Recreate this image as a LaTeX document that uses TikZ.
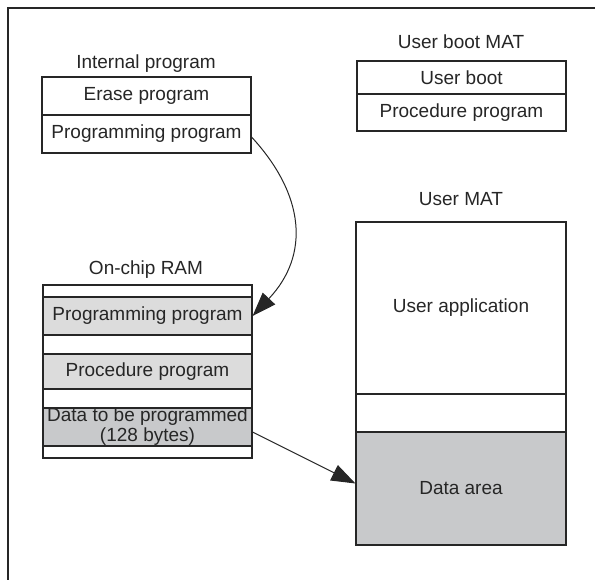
\documentclass[tikz,border=0pt]{standalone}
\usepackage{fontspec}
\setmainfont{Liberation Sans}
\usetikzlibrary{arrows.meta}

\definecolor{linegray}{HTML}{262626}
\definecolor{lightfill}{HTML}{DCDCDC}
\definecolor{darkfill}{HTML}{C8C9CB}

\tikzset{
  memrow/.style={draw=linegray, line width=1.1pt, minimum width=209pt, inner sep=0pt,
    text=linegray, font=\fontsize{19}{20}\selectfont, align=center},
  title/.style={text=linegray, font=\fontsize{19}{20}\selectfont, inner sep=0pt},
  arr/.style={draw=linegray, line width=1pt, -{Triangle[length=24pt,width=17pt]}}
}

\begin{document}
\begin{tikzpicture}[x=1pt,y=-1pt]
    \useasboundingbox (0,0) rectangle (595,580);
    \draw[linegray, line width=1.1pt] (8,580) -- (8,8) -- (595,8);
    % internal program
    \node[title] (intlbl) at (146,64) {Internal program};
    \node[memrow, minimum height=38pt] (erase) at (146.5,96) {Erase program};
    \node[memrow, minimum height=38pt] (intprog) at (146.5,134) {Programming program};
    % user boot MAT
    \node[title] (ubootlbl) at (461,42) {User boot MAT};
    \node[memrow, minimum height=33pt] (uboot) at (461.5,77.5) {User boot};
    \node[memrow, minimum height=37pt] (uproc) at (461.5,112.5) {Procedure program};
    % user MAT
    \node[title] (umatlbl) at (461,199) {User MAT};
    \node[memrow, minimum width=210pt, minimum height=172pt] (uapp) at (461,308) {User application};
    \node[memrow, minimum width=210pt, minimum height=38pt] (ublank) at (461,413) {};
    \node[memrow, minimum width=210pt, minimum height=113pt, fill=darkfill] (dataarea) at (461,488.5) {Data area};
    % on-chip RAM
    \node[title] (ramlbl) at (146,270) {On-chip RAM};
    \node[memrow, minimum height=12pt] (ram1) at (147.5,291) {};
    \node[memrow, minimum height=38pt, fill=lightfill] (ramprog) at (147.5,316) {Programming program};
    \node[memrow, minimum height=19pt] (ram2) at (147.5,344.5) {};
    \node[memrow, minimum height=35pt, fill=lightfill] (ramproc) at (147.5,371.5) {Procedure program};
    \node[memrow, minimum height=19pt] (ram3) at (147.5,398.5) {};
    \node[memrow, minimum height=38pt, fill=darkfill] (ramdata) at (147.5,427) {Data to be programmed\\(128 bytes)};
    \node[memrow, minimum height=12pt] (ram4) at (147.5,452) {};
    % transfers
    \draw[arr] ([yshift=-3pt]intprog.east) .. controls (305,195) and (310,255) .. (ramprog.east);
    \draw[arr] ([yshift=-5pt]ramdata.east) -- ([yshift=5pt]dataarea.west);
\end{tikzpicture}
\end{document}
